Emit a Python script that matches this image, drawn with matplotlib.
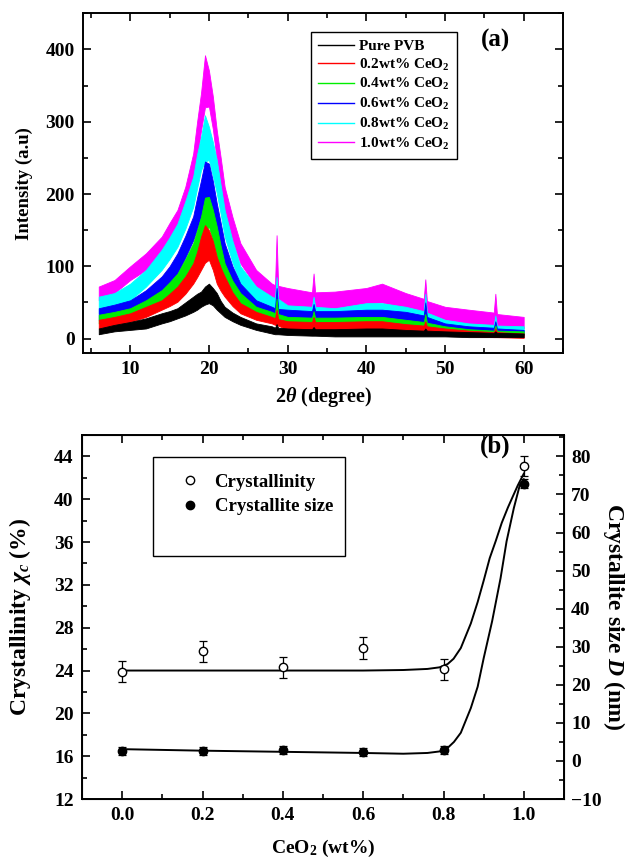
import matplotlib
matplotlib.use("Agg")
import matplotlib.pyplot as plt
from matplotlib.lines import Line2D
from matplotlib.patches import Rectangle
from matplotlib.ticker import MultipleLocator

plt.rcParams['font.family'] = ['Liberation Serif', 'DejaVu Serif']
plt.rcParams['font.weight'] = 'bold'
plt.rcParams['mathtext.fontset'] = 'custom'
plt.rcParams['mathtext.rm'] = 'Liberation Serif:bold'
plt.rcParams['mathtext.it'] = 'Liberation Serif:italic:bold'
plt.rcParams['mathtext.bf'] = 'Liberation Serif:bold'

# ---------------- Panel (a): XRD patterns (noise band envelopes) ----------------
two_theta = [6, 8, 10, 12, 14, 15, 16, 17, 18, 18.5, 19, 19.5, 20, 20.5, 21, 21.5, 22, 23, 24, 26,
             28, 28.4, 28.6, 28.8, 30, 33.1, 33.3, 33.5, 36, 40, 42, 45, 47.3, 47.5, 47.7, 50, 53,
             56.2, 56.4, 56.6, 60]

pvb_hi = [14, 19, 23, 28, 35, 38, 42, 50, 58, 62, 65, 72, 76, 70, 63, 52, 44, 36, 30, 21,
          17, 15, 20, 15, 14, 13, 16, 13, 13, 14, 14, 12, 11, 14, 11, 10, 9, 8, 10, 8, 7]
pvb_lo = [6, 10, 12, 14, 21, 24, 28, 32, 37, 40, 44, 47, 49, 46, 40, 35, 30, 24, 19, 12,
          7, 6, 6, 6, 5, 4, 4, 4, 3, 3, 3, 3, 3, 3, 3, 3, 2, 2, 2, 2, 2]

ce02_hi = [26, 30, 35, 44, 53, 62, 72, 86, 104, 120, 141, 157, 150, 135, 113, 98, 86, 64, 49, 37,
           30, 28, 40, 27, 24, 23, 30, 23, 23, 24, 24, 20, 18, 24, 17, 14, 11, 9, 14, 9, 7]
ce02_lo = [14, 19, 23, 30, 40, 45, 51, 62, 76, 85, 95, 105, 109, 95, 76, 66, 58, 45, 35, 26,
           21, 19, 19, 18, 12, 11, 11, 11, 10, 10, 10, 8, 7, 7, 7, 5, 3, 2, 2, 2, 1]

ce04_hi = [33, 37, 42, 53, 67, 78, 90, 110, 132, 150, 169, 195, 196, 178, 155, 128, 104, 80, 63, 44,
           37, 35, 55, 34, 30, 29, 38, 29, 29, 30, 30, 26, 23, 34, 22, 17, 13, 11, 18, 11, 10]
ce04_lo = [21, 26, 30, 37, 51, 60, 70, 86, 104, 118, 132, 148, 155, 135, 113, 94, 76, 58, 44, 33,
           26, 24, 24, 23, 19, 18, 18, 18, 17, 17, 17, 15, 13, 13, 13, 9, 7, 6, 6, 6, 5]

ce06_hi = [42, 47, 53, 67, 86, 100, 118, 142, 169, 195, 219, 245, 242, 218, 187, 160, 132, 100, 76, 53,
           44, 42, 70, 41, 40, 38, 48, 38, 38, 40, 40, 37, 32, 50, 30, 21, 17, 15, 24, 14, 12]
ce06_lo = [26, 33, 37, 49, 65, 77, 90, 112, 136, 152, 169, 185, 192, 170, 146, 122, 100, 76, 58, 40,
           33, 31, 31, 30, 26, 25, 25, 25, 24, 24, 24, 22, 19, 19, 19, 13, 10, 8, 8, 8, 7]

ce08_hi = [58, 63, 76, 95, 123, 140, 159, 190, 224, 255, 279, 309, 293, 272, 247, 212, 178, 135, 100, 72,
           58, 56, 85, 55, 46, 44, 58, 44, 42, 49, 49, 44, 38, 62, 36, 26, 21, 19, 32, 18, 17]
ce08_lo = [35, 44, 53, 72, 95, 110, 127, 152, 182, 208, 233, 245, 247, 225, 201, 172, 141, 105, 76, 53,
           44, 42, 42, 41, 30, 28, 28, 28, 28, 30, 30, 28, 23, 23, 23, 17, 14, 12, 12, 12, 10]

ce10_hi = [72, 81, 100, 118, 141, 160, 178, 210, 256, 300, 340, 392, 371, 335, 288, 250, 210, 168, 132, 95,
           76, 74, 143, 73, 70, 64, 90, 64, 65, 70, 76, 63, 55, 82, 52, 44, 40, 36, 62, 34, 30]
ce10_lo = [53, 63, 81, 95, 118, 134, 150, 180, 210, 250, 288, 320, 321, 290, 247, 210, 173, 135, 104, 72,
           58, 56, 56, 55, 40, 40, 40, 40, 42, 49, 50, 42, 35, 35, 35, 26, 20, 17, 17, 17, 14]

series_labels = ['Pure PVB', '0.2wt% CeO$_2$', '0.4wt% CeO$_2$', '0.6wt% CeO$_2$',
                 '0.8wt% CeO$_2$', '1.0wt% CeO$_2$']
series_colors = ['#000000', '#ff0000', '#00ee00', '#0000ff', '#00ffff', '#ff00ff']
series_hi = [pvb_hi, ce02_hi, ce04_hi, ce06_hi, ce08_hi, ce10_hi]
series_lo = [pvb_lo, ce02_lo, ce04_lo, ce06_lo, ce08_lo, ce10_lo]

# ---------------- Panel (b): crystallinity and crystallite size ----------------
ceo2_wt = [0.0, 0.2, 0.4, 0.6, 0.8, 1.0]
crystallinity = [23.9, 25.8, 24.3, 26.1, 24.1, 43.1]
crystallinity_err = [1.0, 1.0, 1.0, 1.0, 1.0, 0.9]
cryst_size = [2.6, 2.6, 2.9, 2.3, 2.9, 72.8]
cryst_size_err = [1.0, 1.0, 1.0, 1.0, 1.0, 1.2]

cryst_fit_x = [0.0, 0.2, 0.4, 0.6, 0.7, 0.76, 0.79, 0.81, 0.825, 0.843, 0.868, 0.885, 0.9, 0.915,
               0.93, 0.945, 0.96, 0.973, 0.985, 1.0]
cryst_fit_y = [24.0, 24.0, 24.0, 24.0, 24.05, 24.15, 24.3, 24.6, 25.1, 26.1, 28.4, 30.4, 32.4, 34.5,
               36.1, 37.8, 39.2, 40.3, 41.3, 42.4]
size_fit_x = [0.0, 0.2, 0.4, 0.6, 0.7, 0.76, 0.79, 0.81, 0.826, 0.843, 0.868, 0.885, 0.9, 0.921,
              0.942, 0.957, 0.975, 0.99, 1.0]
size_fit_y = [3.1, 2.7, 2.4, 2.1, 1.9, 2.1, 2.5, 3.4, 5.0, 7.4, 13.9, 19.5, 27.0, 36.7,
              48.0, 57.7, 66.4, 72.5, 74.0]

fig = plt.figure(figsize=(6.26, 8.6), dpi=100)

TICK_FS = 14

# ---- Panel (a)
ax1 = fig.add_axes([0.1326, 0.5895, 0.7668, 0.395])
for i in range(len(series_labels) - 1, -1, -1):
    ax1.fill_between(two_theta, series_lo[i], series_hi[i], color=series_colors[i],
                     linewidth=0.6, edgecolor=series_colors[i])
ax1.set_xlim(4, 65)
ax1.set_ylim(-20, 450)
ax1.xaxis.set_major_locator(MultipleLocator(10))
ax1.xaxis.set_minor_locator(MultipleLocator(5))
ax1.yaxis.set_major_locator(MultipleLocator(100))
ax1.yaxis.set_minor_locator(MultipleLocator(50))
ax1.tick_params(which='both', direction='in', top=True, right=True, labelsize=TICK_FS, width=1.2)
ax1.tick_params(which='major', length=6, pad=6)
ax1.tick_params(which='minor', length=3.5)
for s in ax1.spines.values():
    s.set_linewidth(1.4)
ax1.set_xlabel(r'2$\theta$ (degree)', fontsize=14.5, fontweight='bold', labelpad=5)
ax1.set_ylabel('Intensity (a.u)', fontsize=13.5, fontweight='bold', labelpad=9)
handles = [Line2D([0], [0], color=c, lw=1.0) for c in series_colors]
leg = ax1.legend(handles, series_labels, loc='upper left', bbox_to_anchor=(0.475, 0.944),
                 borderaxespad=0,
                 prop={'family': 'Liberation Serif', 'weight': 'bold', 'size': 11},
                 handlelength=2.35, handletextpad=0.35, labelspacing=0.24, borderpad=0.45,
                 fancybox=False, framealpha=1, edgecolor='black')
leg.get_frame().set_linewidth(1.0)
ax1.text(0.86, 0.921, '(a)', transform=ax1.transAxes, fontsize=18, fontweight='bold',
         ha='center', va='center')

# ---- Panel (b)
ax2 = fig.add_axes([0.131, 0.0709, 0.770, 0.4233])
ax3 = ax2.twinx()
ax2.plot(cryst_fit_x, cryst_fit_y, color='black', lw=1.4)
ax2.errorbar(ceo2_wt, crystallinity, yerr=crystallinity_err, fmt='o', mfc='white', mec='black',
             ms=6, ecolor='black', elinewidth=0.9, capsize=3, capthick=0.9, zorder=5)
ax3.plot(size_fit_x, size_fit_y, color='black', lw=1.4)
ax3.errorbar(ceo2_wt, cryst_size, yerr=cryst_size_err, fmt='o', mfc='black', mec='black',
             ms=6, ecolor='black', elinewidth=0.9, capsize=3, capthick=0.9, zorder=5)
ax2.set_xlim(-0.1, 1.1)
ax2.set_ylim(12, 46)
ax3.set_ylim(-10, 85.625)
ax2.xaxis.set_major_locator(MultipleLocator(0.2))
ax2.xaxis.set_minor_locator(MultipleLocator(0.1))
ax2.yaxis.set_major_locator(MultipleLocator(4))
ax2.yaxis.set_minor_locator(MultipleLocator(2))
ax3.yaxis.set_major_locator(MultipleLocator(10))
ax3.yaxis.set_minor_locator(MultipleLocator(5))
ax2.xaxis.set_major_formatter(plt.FuncFormatter(lambda v, p: f'{v:.1f}'))
ax2.tick_params(which='both', direction='in', top=True, labelsize=TICK_FS, width=1.2)
ax2.tick_params(which='major', length=6, pad=6)
ax2.tick_params(which='minor', length=3.5)
ax3.tick_params(which='both', direction='in', labelsize=TICK_FS, width=1.2)
ax3.tick_params(which='major', length=6, pad=5)
ax3.tick_params(which='minor', length=3.5)
for s in ax3.spines.values():
    s.set_linewidth(1.4)
ax2.set_xlabel('CeO$_2$ (wt%)', fontsize=14, fontweight='bold', labelpad=10)
ax2.set_ylabel(r'Crystallinity $\chi_c$ (%)', fontsize=17, fontweight='bold', labelpad=15)
ax3.set_ylabel(r'Crystallite size $D$ (nm)', fontsize=17, fontweight='bold', rotation=270,
               labelpad=18)
ax2.add_patch(Rectangle((0.147, 0.668), 0.399, 0.272, transform=ax2.transAxes, fill=False,
                        edgecolor='black', lw=1.0, zorder=6))
h_open = Line2D([0], [0], marker='o', ls='none', mfc='white', mec='black', ms=6)
h_fill = Line2D([0], [0], marker='o', ls='none', mfc='black', mec='black', ms=6)
ax2.legend([h_open, h_fill], ['Crystallinity', 'Crystallite size'], loc='upper left',
           bbox_to_anchor=(0.17, 0.94), frameon=False,
           prop={'family': 'Liberation Serif', 'weight': 'bold', 'size': 13.5},
           handlelength=1.0, handletextpad=0.8, labelspacing=0.4)
ax2.text(0.857, 0.968, '(b)', transform=ax2.transAxes, fontsize=18, fontweight='bold',
         ha='center', va='center')

fig.savefig('out.png', dpi=100)
